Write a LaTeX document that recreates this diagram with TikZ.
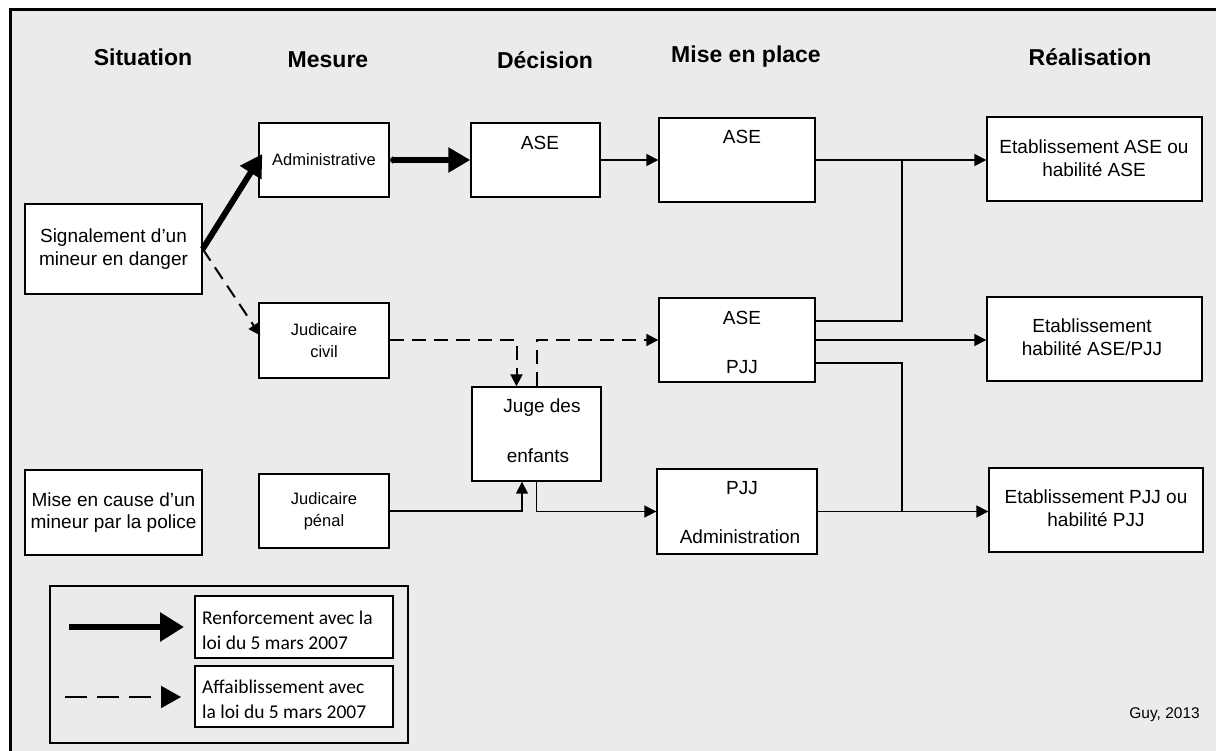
\documentclass[tikz,border=0pt]{standalone}
\usepackage{fontspec}
\setmainfont{Liberation Sans}
\newfontfamily\legfont{Carlito}
\usetikzlibrary{arrows.meta,calc}
\definecolor{bgc}{HTML}{EBEBEB}
\begin{document}
\begin{tikzpicture}[x=1pt,y=-1pt,
  box/.style={draw, fill=white, line width=1.4pt, inner sep=0pt},
  txt/.style={inner sep=0pt, align=center, font=\fontsize{19}{22.5}\selectfont},
  stxt/.style={inner sep=0pt, align=center, font=\fontsize{16.5}{22}\selectfont},
  hdr/.style={inner sep=0pt, font=\fontsize{23}{26}\selectfont\bfseries},
  ltxt/.style={inner sep=0pt, align=left, anchor=west, font=\legfont\fontsize{19.5}{25}\selectfont},
  lin/.style={line width=1.7pt},
  conn/.style={lin, -{Triangle[length=12pt,width=12pt]}},
  dsh/.style={line width=2pt, dash pattern=on 14pt off 8pt, -{Triangle[length=12pt,width=12pt]}},
  thk/.style={line width=6pt, -{Triangle[length=22pt,width=24pt]}}]
\useasboundingbox (0,0) rectangle (1216,751);
\fill[white] (0,0) rectangle (1216,751);
\fill[bgc] (10,10) rectangle (1216,751);
\draw[line width=3pt] (10,751) -- (10,10) -- (1216,10);

% headers
\node[hdr] (h1) at (143,57) {Situation};
\node[hdr] (h2) at (328,60) {Mesure};
\node[hdr] (h3) at (545,60) {Décision};
\node[hdr] (h4) at (746,57) {Mise en place};
\node[hdr] (h5) at (1090,57) {Réalisation};

% boxes
\node[box, minimum width=177, minimum height=90] (sig) at (113.5,249) {};
\node[txt] at (sig) {Signalement d’un\\mineur en danger};
\node[box, minimum width=177, minimum height=85] (cause) at (113.5,512.5) {};
\node[txt] at (cause) {Mise en cause d’un\\mineur par la police};

\node[box, minimum width=130, minimum height=74] (adm) at (324,160) {};
\node[stxt] at (adm) {Administrative};
\node[box, minimum width=130, minimum height=75] (civ) at (324,340.5) {};
\node[stxt] at (civ) {Judicaire\\civil};
\node[box, minimum width=130, minimum height=74] (pen) at (324,511) {};
\node[stxt] at (pen) {Judicaire\\pénal};

\node[box, minimum width=129, minimum height=74] (dase) at (535.5,160) {};
\node[txt] at (540,143) {ASE};
\node[box, minimum width=129, minimum height=94] (juge) at (536.5,434) {};
\node[txt] at (542,408) {Juge des};
\node[txt] at (538,456) {enfants};

\node[box, minimum width=156, minimum height=84] (mase) at (737,160) {};
\node[txt] at (742,137) {ASE};
\node[box, minimum width=156, minimum height=84] (mboth) at (737,340) {};
\node[txt] at (742,318) {ASE};
\node[txt] at (742,367) {PJJ};
\node[box, minimum width=160, minimum height=85] (mpjj) at (737,511.5) {};
\node[txt] at (742,488) {PJJ};
\node[txt] at (740,537) {Administration};

\node[box, minimum width=215, minimum height=84] (r1) at (1094.5,159) {};
\node[txt] at (1094,158) {Etablissement ASE ou\\habilité ASE};
\node[box, minimum width=215, minimum height=84] (r2) at (1094.5,339) {};
\node[txt] at (1092,337) {Etablissement\\habilité ASE/PJJ};
\node[box, minimum width=214, minimum height=84] (r3) at (1096,510) {};
\node[txt] at (1096,508) {Etablissement PJJ ou\\habilité PJJ};

% connectors
\draw[thk] (sig.east) -- ($(adm.west)+(4,-6)$);
\draw[dsh] (sig.east) -- ($(civ.west)+(2,-5)$);
\draw[thk, {Circle[length=6pt]}-{Triangle[length=22pt,width=24pt]}] (adm.east) -- (dase.west);
\draw[conn] (dase.east) -- (mase.west);
\draw[dsh] (civ.east) -| ($(juge.north)+(-20,0)$);
\draw[dsh] (juge.north) |- (mboth.west);
\draw[conn] (pen.east) -| ($(juge.south)+(-14.5,0)$);
\draw[conn] (juge.south) |- (mpjj.west);

\coordinate (jt) at (902,160);
\coordinate (jb) at (902,511);
\draw[conn] (mase.east) -- (mase.east -| r1.west);
\draw[lin] ($(mboth.east)+(0,-19)$) -| (jt);
\draw[conn] (mboth.east) -- (mboth.east -| r2.west);
\draw[lin] ($(mboth.east)+(0,23)$) -| (jb);
\draw[conn] (mpjj.east) -- (mpjj.east -| r3.west);

% legend
\node[draw, line width=1.2pt, fill=bgc, minimum width=358, minimum height=157, inner sep=0pt] (leg) at (229,664.5) {};
\node[box, minimum width=198, minimum height=62] (lb1) at (294,627) {};
\node[ltxt] at (202,630) {Renforcement avec la\\loi du 5 mars 2007};
\node[box, minimum width=198, minimum height=61] (lb2) at (294,696.5) {};
\node[ltxt] at (202,699) {Affaiblissement avec\\la loi du 5 mars 2007};
\coordinate (la1) at (69,627);
\coordinate (la2) at (184,627);
\coordinate (lc1) at (65,697);
\coordinate (lc2) at (181,697);
\draw[line width=6pt, -{Triangle[length=24pt,width=28pt]}] (la1) -- (la2);
\draw[line width=2pt, dash pattern=on 22pt off 10pt, -{Triangle[length=20pt,width=22pt]}] (lc1) -- (lc2);

\node[inner sep=0pt, anchor=east, font=\fontsize{15.5}{18}\selectfont] (guy) at (1200,715) {Guy, 2013};
\end{tikzpicture}
\end{document}
